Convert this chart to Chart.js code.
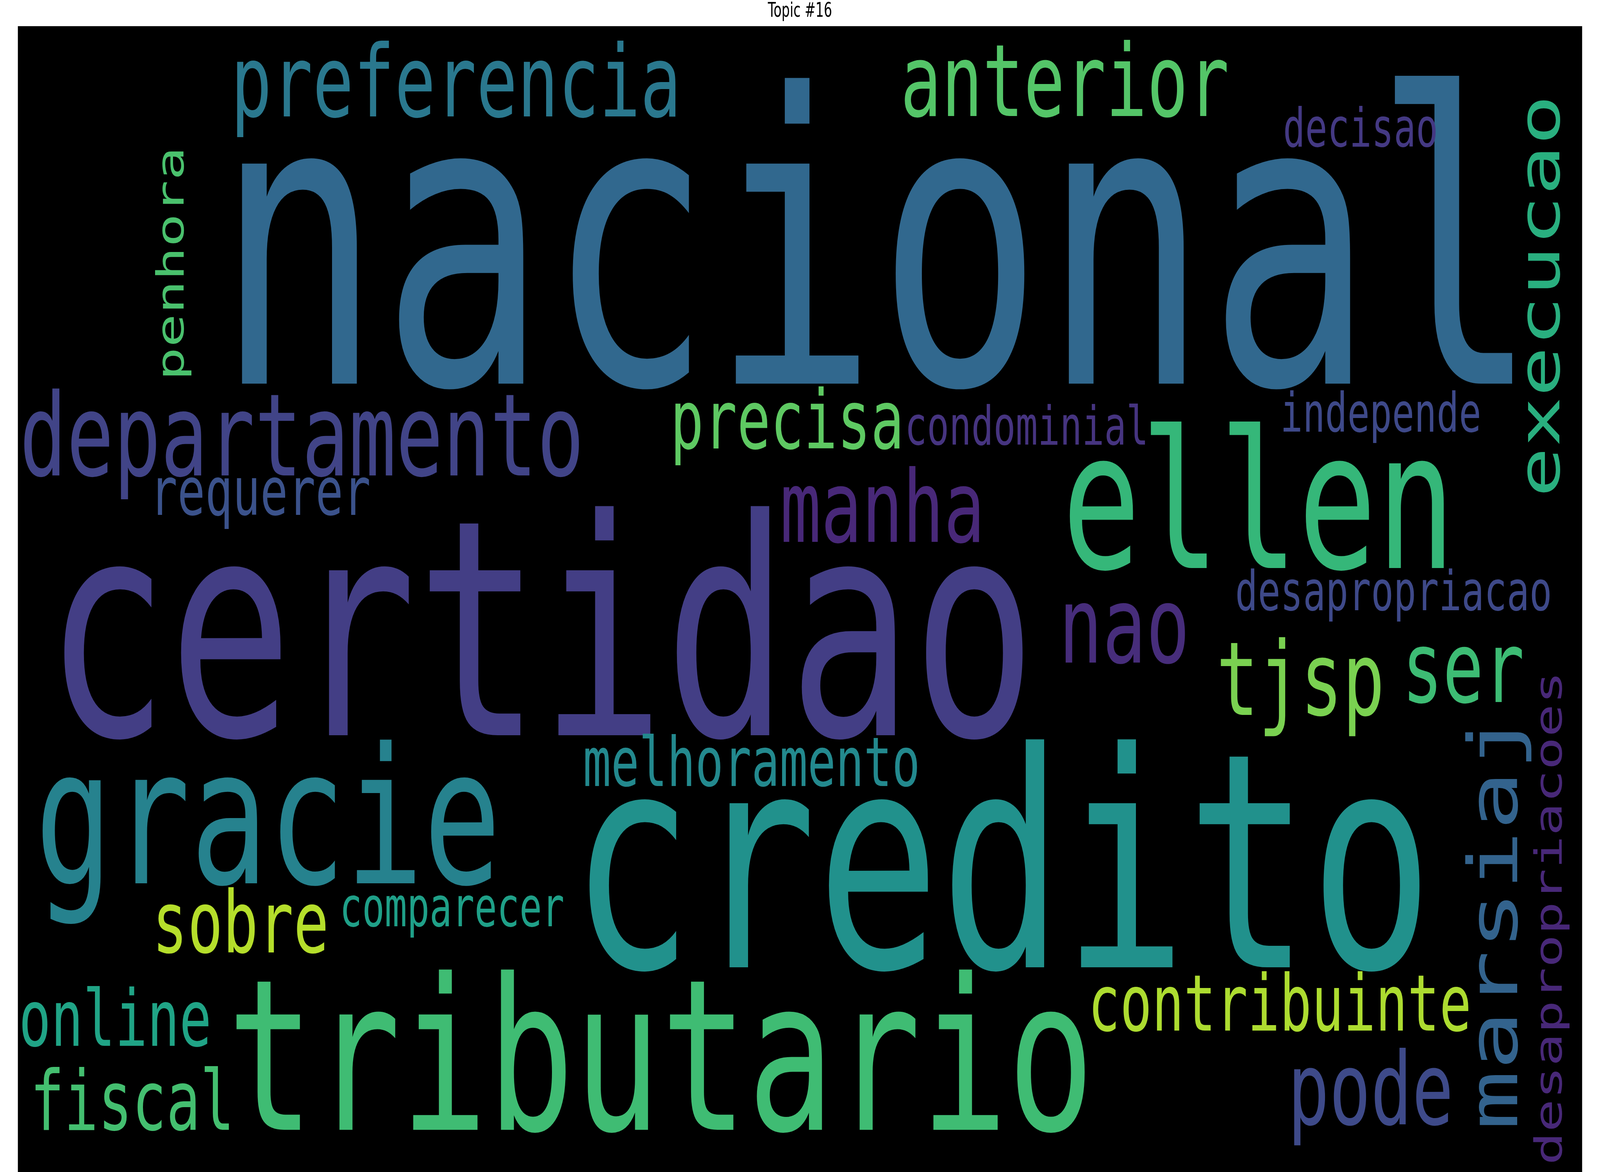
<!DOCTYPE html>
<html>
<head>
<meta charset="utf-8">
<script src="https://cdn.jsdelivr.net/npm/chart.js@4.4.1/dist/chart.umd.min.js"></script>
<style>
html,body{margin:0;padding:0;background:#fff;overflow:hidden;}
canvas{display:block;}
</style>
</head>
<body>
<canvas id="c"></canvas>
<script>
// ---- data (word cloud: term, weight = font size in reference px, anchor position, orientation, colour) ----
const words = ["nacional","certidao","credito","tributario","ellen","gracie","departamento","preferencia","anterior","manha","nao","tjsp","ser","marsiaj","pode","execucao","sobre","precisa","contribuinte","online","fiscal","requerer","melhoramento","penhora","comparecer","condominial","decisao","independe","desapropriacao","desapropriacoes"];
const weights = [1030,772,768,540,490,484,293,255,256,255,272,262,254,255,258,214,220,208,199,200,212,172,175,142,140,138,138,139,141,140];
// anchor: horizontal words -> (centre x, baseline y); vertical words -> (baseline x, centre y)
const xPos = [3290,2027,3756,2478,4720,1005,1132,1710,3993,3309,4216,4877,5487,5690,5140,5848,902,2952,4799,432,496,976,2818,689,1695,3850,5102,5178,5226,5857];
const yPos = [982,1882,2476,2892,1454,2261,1217,298,297,1387,1696,1830,1797,2356,2878,758,2438,1148,2638,2677,2892,1318,2012,675,2371,1138,375,1105,1562,2350];
const vertical = [0,0,0,0,0,0,0,0,0,0,0,0,0,1,0,1,0,0,0,0,0,0,0,1,0,0,0,0,0,1];
const colors = ["#31688e","#433e85","#21918c","#3fbc73","#35b779","#26828e","#414487","#2a788e","#54c568","#482878","#472d7b","#7ad151","#3dbc74","#33638d","#3e4a89","#29af7f","#b5de2b","#5ec962","#addc30","#20a486","#44bf70","#3b528b","#23898e","#4ac16d","#1fa088","#463480","#443983","#3e4989","#3e4989","#482878"];
const titleText = "Topic #16";

// reference frame is 6000 x 3000; the page fills the window and scales to it
const REF_W = 6000, REF_H = 3000;
const W = window.innerWidth || REF_W, H = window.innerHeight || REF_H;
const kx = W / REF_W, ky = H / REF_H;
const canvas = document.getElementById('c');
canvas.width = W; canvas.height = H;
canvas.style.width = W + 'px'; canvas.style.height = H + 'px';

const points = words.map((w,i)=>({x:xPos[i], y:yPos[i]}));

const cloudPlugin = {
  id:'cloud',
  beforeDatasetsDraw(chart){
    const {ctx, chartArea:a} = chart;
    ctx.save();
    ctx.fillStyle = '#000';
    ctx.fillRect(a.left, a.top, a.right-a.left, a.bottom-a.top);
    ctx.restore();
  },
  afterDatasetsDraw(chart){
    const {ctx, scales, chartArea:a} = chart;
    const xs = scales.x, ys = scales.y;
    ctx.save();
    ctx.beginPath();
    ctx.rect(a.left, a.top, a.right-a.left, a.bottom-a.top);
    ctx.clip();
    words.forEach((w,i)=>{
      const px = xs.getPixelForValue(xPos[i]);
      const py = ys.getPixelForValue(yPos[i]);
      ctx.save();
      ctx.font = weights[i] + 'px "DejaVu Sans Mono"';
      ctx.fillStyle = colors[i];
      ctx.textAlign = 'center';
      ctx.textBaseline = 'alphabetic';
      ctx.translate(px, py);
      ctx.scale(kx, ky);
      if (vertical[i]) ctx.rotate(-Math.PI/2);
      ctx.fillText(w, 0, 0);
      ctx.restore();
    });
    ctx.restore();
  },
  afterDraw(chart){
    const ctx = chart.ctx;
    ctx.save();
    ctx.translate(chart.width/2, 43*ky);
    ctx.scale(kx*0.955, ky);
    ctx.font = '51px "DejaVu Sans"';
    ctx.fillStyle = '#000';
    ctx.textAlign = 'center';
    ctx.textBaseline = 'alphabetic';
    ctx.fillText(titleText, 0, 0);
    ctx.restore();
  }
};

new Chart(canvas, {
  type:'scatter',
  data:{datasets:[{label:'words', data:points, pointRadius:0, pointHoverRadius:0, showLine:false}]},
  options:{
    responsive:false,
    devicePixelRatio:1,
    animation:false,
    events:[],
    layout:{padding:{left:67*kx, right:67*kx, top:67*ky, bottom:0}},
    plugins:{
      legend:{display:false},
      tooltip:{enabled:false},
      title:{display:false}
    },
    scales:{
      x:{type:'linear', min:67, max:5933, display:false},
      y:{type:'linear', min:67, max:3000, reverse:true, display:false}
    }
  },
  plugins:[cloudPlugin]
});
</script>
</body>
</html>
